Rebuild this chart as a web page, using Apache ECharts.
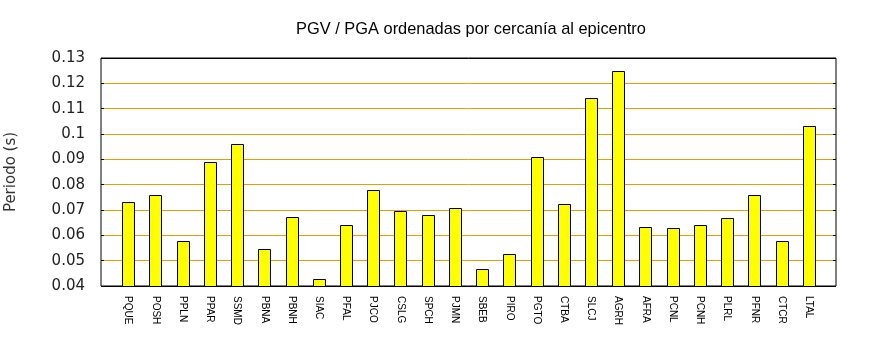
<!DOCTYPE html>
<html>
<head>
<meta charset="utf-8">
<script src="https://cdn.jsdelivr.net/npm/echarts@6/dist/echarts.min.js"></script>
<style>html,body{margin:0;padding:0;background:#fff}#c{width:870px;height:350px}</style>
</head>
<body>
<div id="c"></div>
<script>
var categories = ['PQUE','POSH','PPLN','PPAR','SSMD','PBNA','PBNH','SIAC','PFAL','PJCO','CSLG','SPCH','PJMN','SBEB','PIRO','PGTO','CTBA','SLCJ','AGRH','AFRA','PCNL','PCNH','PLRL','PFNR','CTCR','LTAL'];
var periods = [0.0730,0.0758,0.0576,0.0888,0.0959,0.0545,0.0671,0.0426,0.0640,0.0778,0.0695,0.0679,0.0707,0.0466,0.0525,0.0908,0.0723,0.1141,0.1248,0.0632,0.0628,0.0640,0.0667,0.0758,0.0576,0.1030];
var yTicks = [0.04,0.05,0.06,0.07,0.08,0.09,0.1,0.11,0.12,0.13];

var barData = periods.map(function(v,i){ return [i, v]; });
var gridColors = yTicks.map(function(v,i){ return (i===0||i===yTicks.length-1) ? '#000' : '#e69f00'; });

var chart = echarts.init(document.getElementById('c'), null, {renderer:'canvas'});
chart.setOption({
  animation:false,
  title:{text:'PGV / PGA ordenadas por cercanía al epicentro', left:466, top:16, textAlign:'center',
    textStyle:{fontFamily:'Liberation Sans', fontSize:16.4, fontWeight:'normal', color:'#000'}},
  grid:{left:101, right:34, top:58, bottom:64, containLabel:false, outerBoundsMode:'none',
    show:true, borderColor:'#000', borderWidth:1, backgroundColor:'transparent'},
  xAxis:{type:'value', min:-1, max:categories.length, interval:1,
    axisLine:{show:false, onZero:false}, axisTick:{show:false},
    axisLabel:{rotate:-90, margin:10, fontFamily:'Liberation Sans', fontSize:10, fontWeight:'normal', color:'#000', align:'left', verticalAlign:'middle',
      showMinLabel:true, showMaxLabel:true,
      formatter:function(v){ var i=Math.round(v); return (i>=0 && i<categories.length) ? categories[i] : ''; }},
    splitLine:{show:false}},
  yAxis:[{type:'value', min:0.04, max:0.13, interval:0.01,
    name:'Periodo (s)', nameLocation:'middle', nameGap:82, nameRotate:90,
    nameTextStyle:{fontFamily:'DejaVu Sans', fontSize:15, color:'#333'},
    axisLine:{show:false, onZero:false},
    axisTick:{show:true, inside:true, length:3, lineStyle:{color:'#000'}},
    axisLabel:{margin:16, fontFamily:'DejaVu Sans', fontSize:15, color:'#222',
      formatter:function(v){ for (var i=0;i<yTicks.length;i++){ if (Math.abs(yTicks[i]-v)<1e-9) return String(yTicks[i]); } return ''; }},
    splitLine:{show:true, lineStyle:{color:gridColors, width:1}}},
   {type:'value', position:'right', min:0.04, max:0.13, interval:0.01,
    axisLine:{show:false, onZero:false}, axisLabel:{show:false}, splitLine:{show:false},
    axisTick:{show:true, inside:true, length:3, lineStyle:{color:'#000'}}}],
  series:[{type:'custom', data:barData, yAxisIndex:0, encode:{x:0, y:1},
    renderItem:function(params, api){
      var x = api.value(0), y = api.value(1);
      var top = api.coord([x, y]);
      var base = api.coord([x, yTicks[0]]);
      var w = 12;
      return {type:'rect',
        shape:{x:Math.round(top[0]-w/2)+0.5, y:Math.round(top[1])+0.5, width:w, height:Math.round(base[1])-Math.round(top[1])},
        style:{fill:'#ffff00', stroke:'#000', lineWidth:1}};
    }}]
});
</script>
</body>
</html>
